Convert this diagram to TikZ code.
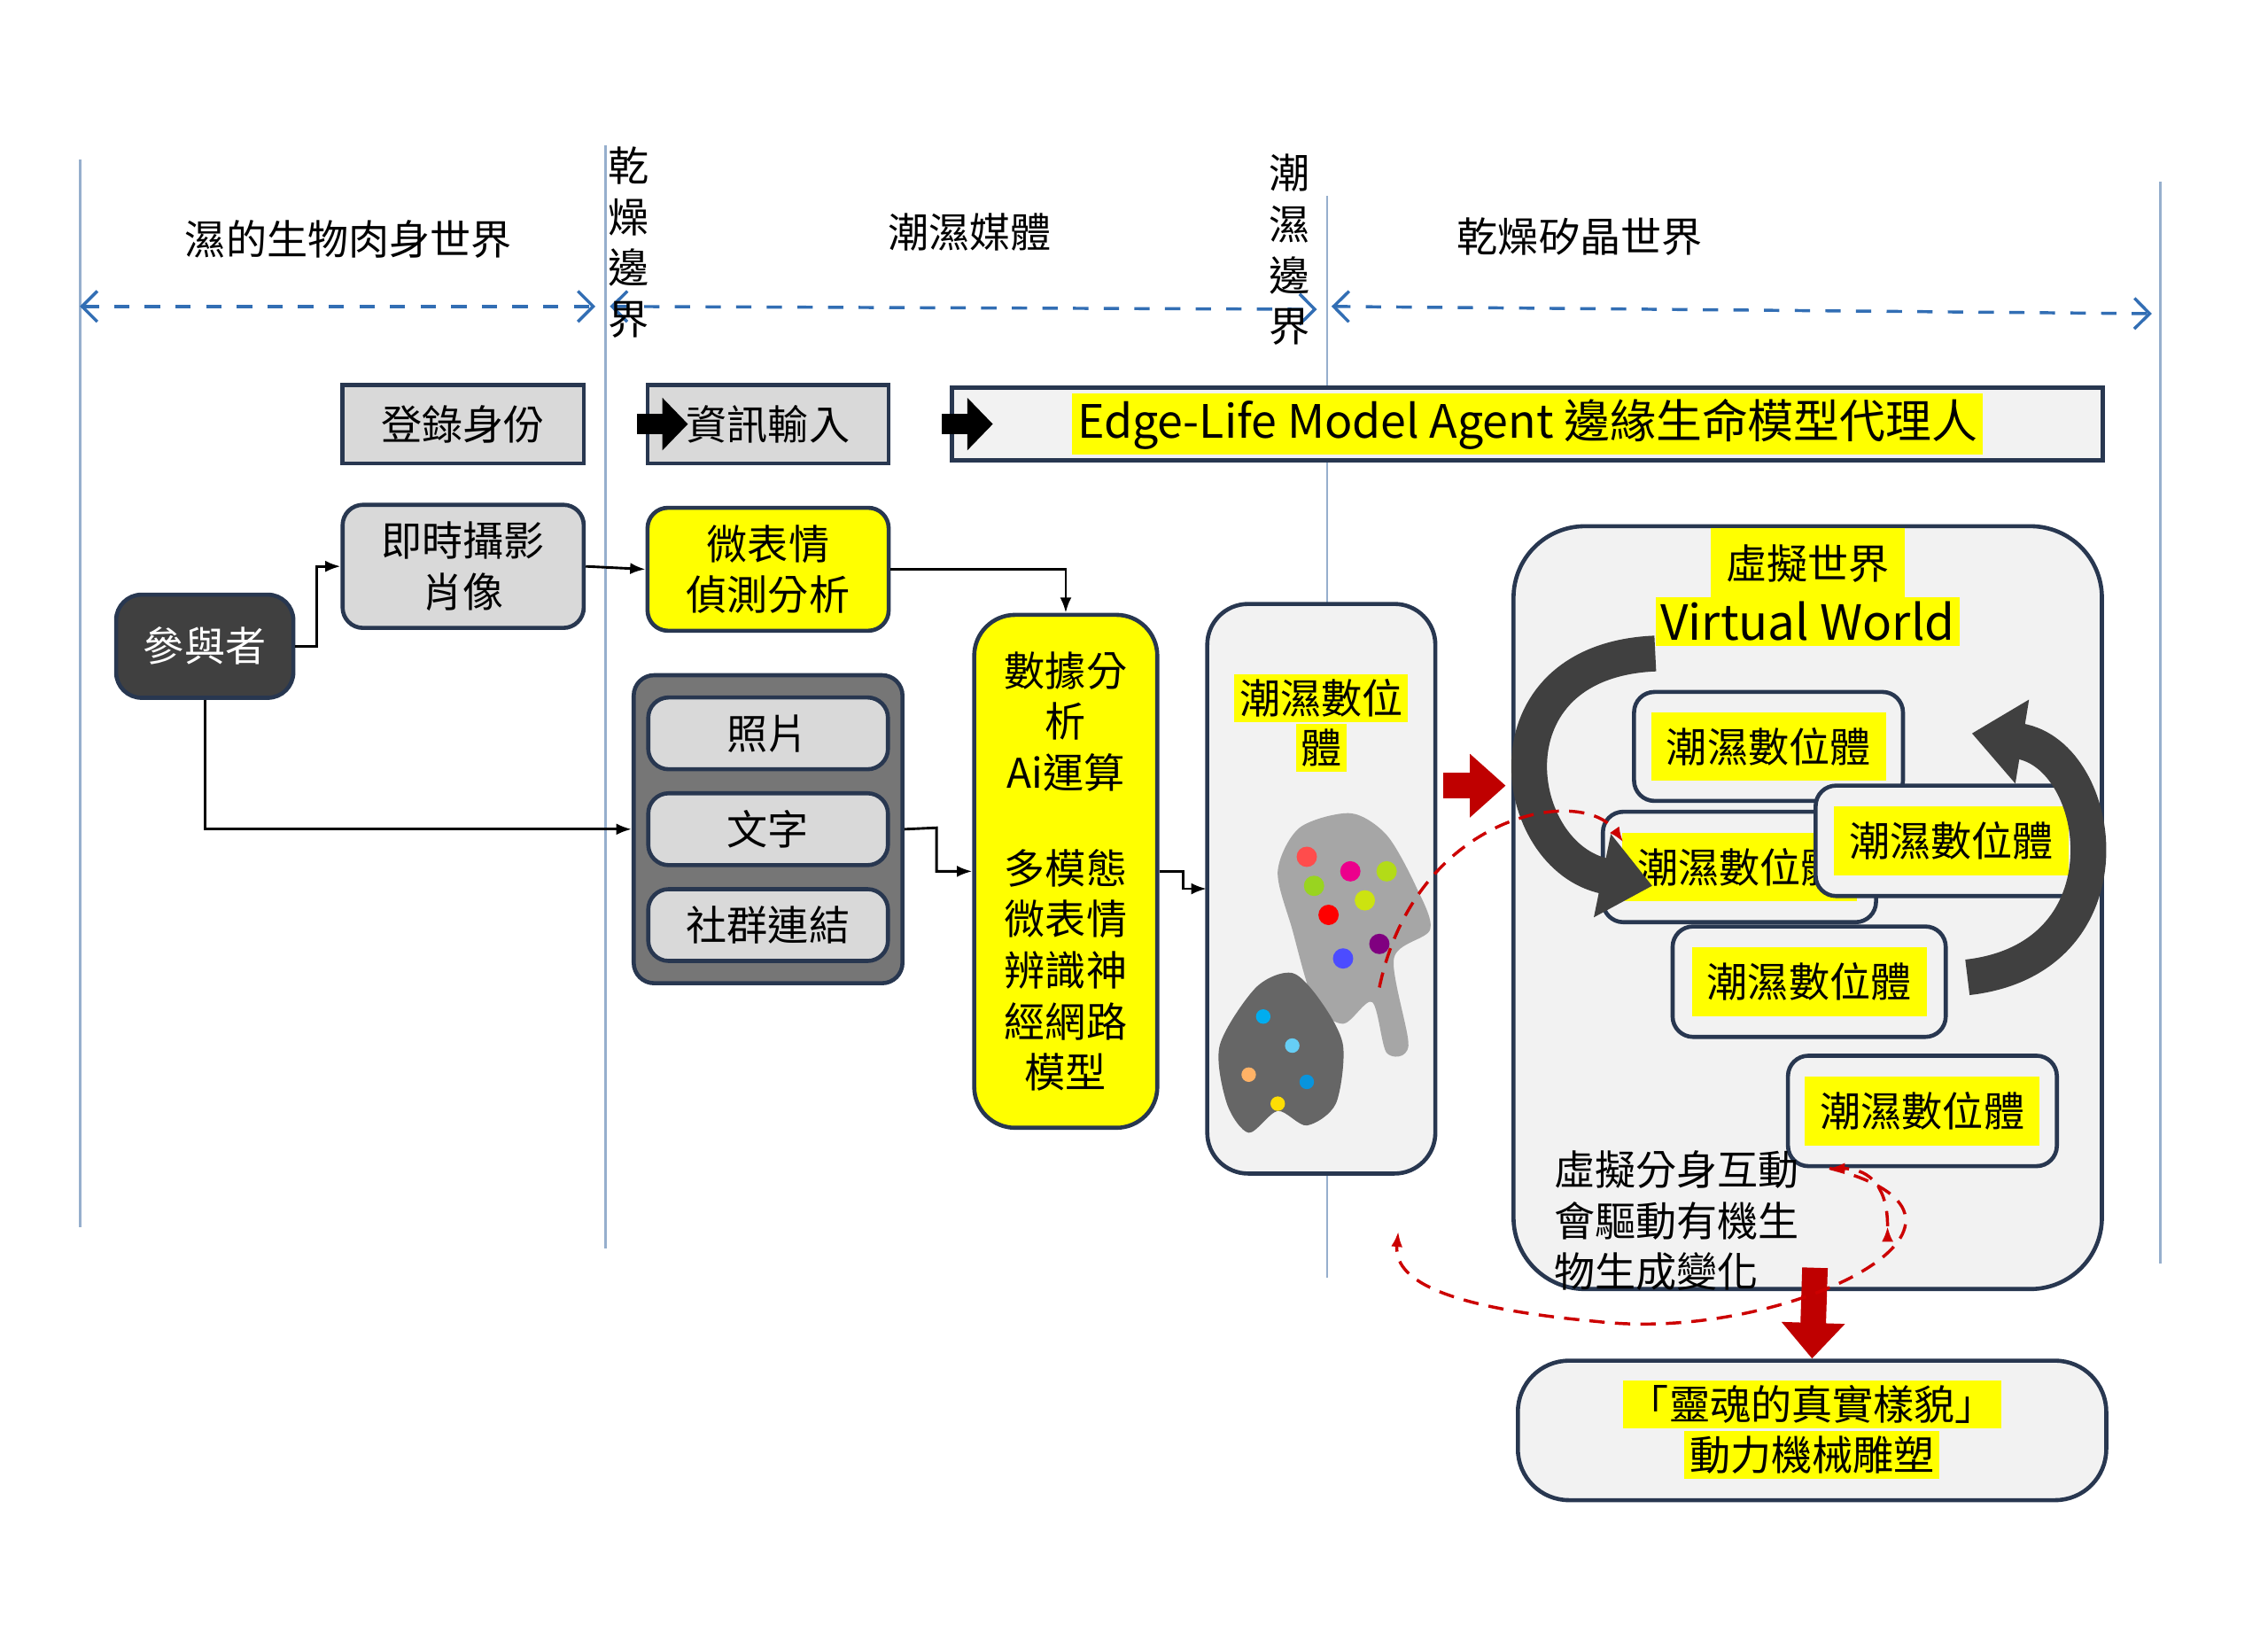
\documentclass[tikz,border=0pt]{standalone}
\usepackage{fontspec}
\setmainfont{Noto Sans CJK TC}
\usetikzlibrary{arrows.meta,positioning}
\definecolor{lineblue}{RGB}{150,175,205}
\definecolor{dashblue}{RGB}{50,110,180}
\definecolor{boxgray}{RGB}{217,217,217}
\definecolor{panelgray}{RGB}{242,242,242}
\definecolor{edgeblue}{RGB}{40,55,80}
\definecolor{darkbox}{RGB}{64,64,64}
\definecolor{grpgray}{RGB}{118,118,118}
\definecolor{hl}{RGB}{255,255,0}
\tikzset{
  txt/.style={font=\fontsize{8}{10}\selectfont, align=center},
  gbox/.style={draw=edgeblue, line width=0.8pt, fill=boxgray, txt},
  rbox/.style={gbox, rounded corners=4pt},
  ybox/.style={draw=edgeblue, line width=0.8pt, fill=hl, rounded corners=4pt, txt},
  pbox/.style={draw=edgeblue, line width=0.8pt, fill=panelgray, rounded corners=8pt},
  hltxt/.style={fill=hl, inner sep=1pt, txt},
  conn/.style={-{Latex[length=3pt]}, line width=0.5pt},
  bound/.style={lineblue, line width=0.5pt},
  span/.style={{Straight Barb[length=3pt]}-{Straight Barb[length=3pt]}, dashblue, dashed, line width=0.6pt},
  fat/.style={-{Triangle[length=8pt,width=12pt]}, line width=6pt},
  redfat/.style={-{Triangle[length=7pt,width=12pt]}, line width=5pt, red!75!black},
  reddash/.style={-{Latex[length=3pt]}, red!80!black, densely dashed, line width=0.6pt},
  curved/.style={-{Triangle[length=10pt,width=16pt]}, line width=7pt, darkbox}
}
\begin{document}
\begin{tikzpicture}[x=0.01cm, y=-0.01cm]
  \useasboundingbox (0,0) rectangle (1562,1130);

  % boundaries
  \draw[bound] (55,110) -- (55,845);
  \draw[bound] (417,100) -- (417,860);
  \draw[bound] (914,135) -- (914,880);
  \draw[bound] (1488,125) -- (1488,870);
  \coordinate (s1) at (55,211);  \coordinate (e1) at (410,211);
  \coordinate (s2) at (420,211); \coordinate (e2) at (907,213);
  \coordinate (s3) at (917,211); \coordinate (e3) at (1482,216);
  \draw[span] (s1) -- (e1);
  \draw[span] (s2) -- (e2);
  \draw[span] (s3) -- (e3);
  \node[txt] (wet) at (240,165) {濕的生物肉身世界};
  \node[txt, text width=1em, inner sep=0pt] (b1) at (433,167) {乾\\燥\\邊\\界};
  \node[txt] (media) at (668,160) {潮濕媒體};
  \node[txt, text width=1em, inner sep=0pt] (b2) at (888,172) {潮\\濕\\邊\\界};
  \node[txt] (dry) at (1088,163) {乾燥矽晶世界};

  % top row
  \node[gbox, minimum width=1.66cm, minimum height=0.54cm] (reg) at (319,292) {登錄身份};
  \node[gbox, minimum width=1.66cm, minimum height=0.54cm] (inp) at (529,292) {資訊輸入};
  \node[draw=edgeblue, line width=0.8pt, fill=panelgray, minimum width=7.92cm, minimum height=0.5cm] (agent) at (1052,292) {};
  \node[hltxt, font=\fontsize{9}{11}\selectfont] (agtxt) at (agent) {Edge-Life Model Agent 邊緣生命模型代理人};
  \draw[-{Triangle[length=5pt,width=10pt]}, line width=4pt] (reg.east) ++(10pt,0) coordinate (a1) -- ++(10pt,0);
  \draw[-{Triangle[length=5pt,width=10pt]}, line width=4pt] (inp.east) ++(10pt,0) coordinate (a2) -- ++(10pt,0);

  % left side
  \node[rbox, minimum width=1.66cm, minimum height=0.72cm] (cam) at (319,390) {即時攝影\\肖像};
  \node[ybox, minimum width=1.66cm, minimum height=0.84cm] (micro) at (529,392) {微表情\\偵測分析};
  \node[draw=edgeblue, line width=0.8pt, fill=darkbox, rounded corners=5pt, text=white, txt,
        minimum width=1.22cm, minimum height=0.71cm] (user) at (141,445) {參與者};
  \node[draw=edgeblue, line width=0.8pt, fill=grpgray, rounded corners=4pt,
        minimum width=1.85cm, minimum height=2.12cm] (grp) at (529,571) {};
  \node[rbox, minimum width=1.65cm, minimum height=0.48cm] (photo) at (529,505) {照片};
  \node[rbox, minimum width=1.65cm, minimum height=0.48cm] (word) at (529,571) {文字};
  \node[rbox, minimum width=1.65cm, minimum height=0.47cm] (soc) at (529,637) {社群連結};
  \node[ybox, rounded corners=8pt, minimum width=1.26cm, minimum height=3.53cm] (ai) at (734,600) {};
  \node[txt, align=center] (aitxt) at (734,497) {數據分\\析\\Ai運算};
  \node[txt, align=center] (mmtxt) at (734,668) {多模態\\微表情\\辨識神\\經網路\\模型};

  \draw[conn] (user.east) -- (218,445) |- (cam.west);
  \draw[conn] (cam.east) -- (micro.west);
  \draw[conn] (micro.east) -| (ai.north);
  \draw[conn] (user.south) |- (grp.west);
  \draw[conn] (grp.east |- word) -- (645,570) |- (ai.west);
  \draw[conn] (ai.east) -- (815,600) |- (831,612);

  % digital body panel
  \node[pbox, minimum width=1.57cm, minimum height=3.92cm] (dig) at (910,612) {};
  \node[hltxt] (d1) at (910,481) {潮濕數位};
  \node[hltxt] (d2) at (910,515) {體};
  % figures
  \fill[gray!70] plot[smooth cycle] coordinates {(895,570) (930,560) (955,575) (975,610) (985,640) (960,660) (970,720) (955,725) (945,690) (925,705) (905,690) (890,640) (880,600)};
  \fill[gray!80!black] plot[smooth cycle] coordinates {(865,680) (890,670) (910,690) (925,720) (920,760) (900,775) (880,765) (860,780) (845,760) (840,720)};
  \foreach \p/\c in {{(900,590)}/red!70, {(930,600)}/magenta, {(915,630)}/red, {(940,620)}/yellow!80!green, {(950,650)}/violet, {(925,660)}/blue!70, {(955,600)}/yellow!70!green, {(905,610)}/yellow!60!green}
    \fill[\c] \p circle (7);
  \foreach \p/\c in {{(870,700)}/cyan, {(890,720)}/cyan!60, {(860,740)}/orange!60, {(900,745)}/cyan!80!blue, {(880,760)}/yellow!80!orange}
    \fill[\c] \p circle (5);

  % virtual world
  \node[pbox, rounded corners=14pt, minimum width=4.05cm, minimum height=5.25cm] (vw) at (1245,625) {};
  \node[txt] (vwt1) at (1245,392) {\colorbox{hl}{\strut 虛擬世界}};
  \node[hltxt, font=\fontsize{9.5}{11}\selectfont] (vwt2) at (1245,428) {Virtual World};
  \node[rbox, fill=panelgray, minimum width=1.85cm, minimum height=0.75cm] (v1) at (1218,514) {\colorbox{hl}{潮濕數位體}};
  \node[rbox, fill=panelgray, minimum width=1.88cm, minimum height=0.76cm] (v2) at (1198,597) {\colorbox{hl}{潮濕數位體}};
  \node[rbox, fill=panelgray, minimum width=1.87cm, minimum height=0.76cm] (v3) at (1344,579) {\colorbox{hl}{潮濕數位體}};
  \node[rbox, fill=panelgray, minimum width=1.88cm, minimum height=0.76cm] (v4) at (1246,676) {\colorbox{hl}{潮濕數位體}};
  \node[rbox, fill=panelgray, minimum width=1.85cm, minimum height=0.76cm] (v5) at (1324,765) {\colorbox{hl}{潮濕數位體}};
  \node[txt, align=left, anchor=north west] (note) at (1058,780) {虛擬分身互動\\會驅動有機生\\物生成變化};
  \coordinate (c1s) at (1140,450);
  \coordinate (c1e) at (1138,610);
  \draw[curved] (c1s) .. controls (1020,455) and (1040,590) .. (c1e);
  \coordinate (c2s) at (1355,673);
  \coordinate (c2e) at (1358,505);
  \draw[curved] (c2s) .. controls (1470,660) and (1450,520) .. (c2e);

  % red arrows
  \draw[redfat] (dig.east |- 0,541) ++(4,0) -- (1037,541);
  \node[draw=edgeblue, line width=0.8pt, fill=panelgray, rounded corners=10pt,
        minimum width=4.05cm, minimum height=0.96cm] (soul) at (1248,985) {};
  \node[hltxt] (s1t) at (1248,967) {「靈魂的真實樣貌」};
  \node[hltxt] (s2t) at (1248,1002) {動力機械雕塑};
  \draw[redfat] (1250,873) -- (soul.north);
  \coordinate (r1) at (950,680);
  \coordinate (r2) at (1118,580);
  \draw[reddash] (r1) .. controls (975,560) and (1090,540) .. (r2);
  \coordinate (r3) at (963,848);
  \draw[reddash] (v5.south west) ++(30,0) coordinate (r0) .. controls (1400,840) and (1230,925) .. (1100,910)
     .. controls (990,900) and (960,880) .. (r3);
  \draw[reddash] (r0) ++(40,40) coordinate (r4);
  \draw[reddash] (r4) .. controls (1300,820) and (1290,805) .. (r0);
\end{tikzpicture}
\end{document}
